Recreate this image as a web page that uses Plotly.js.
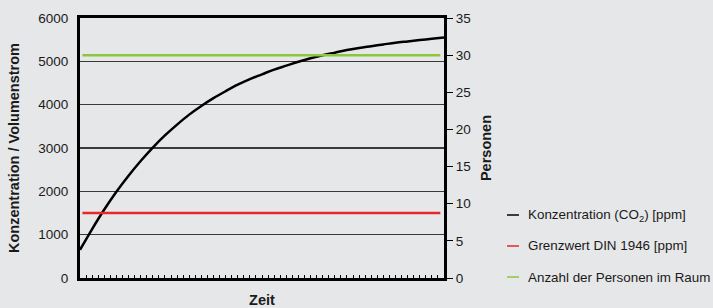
<!DOCTYPE html>
<html>
<head>
<meta charset="utf-8">
<script src="https://cdn.plot.ly/plotly-3.0.1.min.js"></script>
<style>
  html, body { margin: 0; padding: 0; background: #e6e7e8; }
  #chart { width: 713px; height: 308px; }
</style>
</head>
<body>
<div id="chart"></div>
<script>
// Time (minutes) and CO2 concentration [ppm]
const zeit = [0, 2, 4, 6, 8, 10, 12, 14, 16, 18, 20, 22, 24, 26, 28, 30,
              32, 34, 36, 38, 40, 42, 44, 46, 48, 50, 52, 54, 56, 58, 60];
const konzentration = [650, 1130, 1580, 1990, 2360, 2700, 3010, 3290, 3540, 3770, 3970,
                       4150, 4310, 4460, 4590, 4700, 4810, 4900, 4990, 5070, 5140,
                       5200, 5260, 5310, 5350, 5390, 5430, 5460, 5490, 5520, 5550];
// Limit value DIN 1946 [ppm]
const grenzZeit = [0.4, 59.4];
const grenzwert = [1500, 1500];
// Number of persons in room
const personenZeit = [0.4, 59.4];
const personen = [30, 30];

const legendNames = [
  "Konzentration (CO<sub>2</sub>) [ppm]",
  "Grenzwert DIN 1946 [ppm]",
  "Anzahl der Personen im Raum"
];
const colors = ["#000000", "#e8262b", "#8cc63f"];

const font = "Liberation Sans, Arial, sans-serif";

const traces = [
  { x: zeit, y: konzentration, type: "scatter", mode: "lines", name: legendNames[0],
    line: { color: colors[0], width: 2.5, shape: "spline" }, yaxis: "y" },
  { x: grenzZeit, y: grenzwert, type: "scatter", mode: "lines", name: legendNames[1],
    line: { color: colors[1], width: 2.5 }, yaxis: "y" },
  { x: personenZeit, y: personen, type: "scatter", mode: "lines", name: legendNames[2],
    line: { color: colors[2], width: 2.5 }, yaxis: "y2" }
];

// custom legend (short line + text) to the right
const legY = [0.2423, 0.1231, 0.0038];
const shapes = [];
const annotations = [];
for (let i = 0; i < 3; i++) {
  shapes.push({ type: "line", xref: "paper", yref: "paper",
    x0: 1.173, x1: 1.206, y0: legY[i], y1: legY[i],
    line: { color: colors[i], width: 1.5 } });
  annotations.push({ xref: "paper", yref: "paper", x: 1.2253, y: legY[i],
    xanchor: "left", yanchor: "middle", showarrow: false, text: legendNames[i],
    font: { family: font, size: 13.4, color: "#1a1a1a" } });
}

const layout = {
  width: 713, height: 308,
  margin: { l: 80, r: 269, t: 18, b: 30 },
  paper_bgcolor: "#e6e7e8",
  plot_bgcolor: "#e6e7e8",
  showlegend: false,
  font: { family: font, size: 13.5, color: "#1a1a1a" },
  xaxis: {
    range: [0, 60], dtick: 1, ticks: "inside", ticklen: 3, tickwidth: 1, tickcolor: "#000",
    showticklabels: false, showgrid: false, zeroline: false,
    showline: true, linecolor: "#000", linewidth: 3, mirror: true,
    title: { text: "<b>Zeit</b>", standoff: 16, font: { family: font, size: 14.5 } }
  },
  yaxis: {
    range: [0, 6000], dtick: 1000, ticks: "", ticklabelstandoff: 6,
    showgrid: true, gridcolor: "#3a3a3a", gridwidth: 1.2, zeroline: false,
    showline: true, linecolor: "#000", linewidth: 3, mirror: true,
    tickfont: { family: font, size: 13.5 },
    title: { text: "<b>Konzentration / Volumenstrom</b>", standoff: 16, font: { family: font, size: 14.5 } }
  },
  yaxis2: {
    overlaying: "y", side: "right", range: [0, 35], dtick: 5,
    ticks: "outside", ticklen: 6, tickwidth: 1, tickcolor: "#000",
    showgrid: false, zeroline: false,
    showline: true, linecolor: "#000", linewidth: 3,
    tickfont: { family: font, size: 13.5 },
    title: { text: "<b>Personen</b>", standoff: 12, font: { family: font, size: 14.5 } }
  },
  shapes: shapes,
  annotations: annotations
};

Plotly.newPlot("chart", traces, layout, { displayModeBar: false, staticPlot: true });
</script>
</body>
</html>
